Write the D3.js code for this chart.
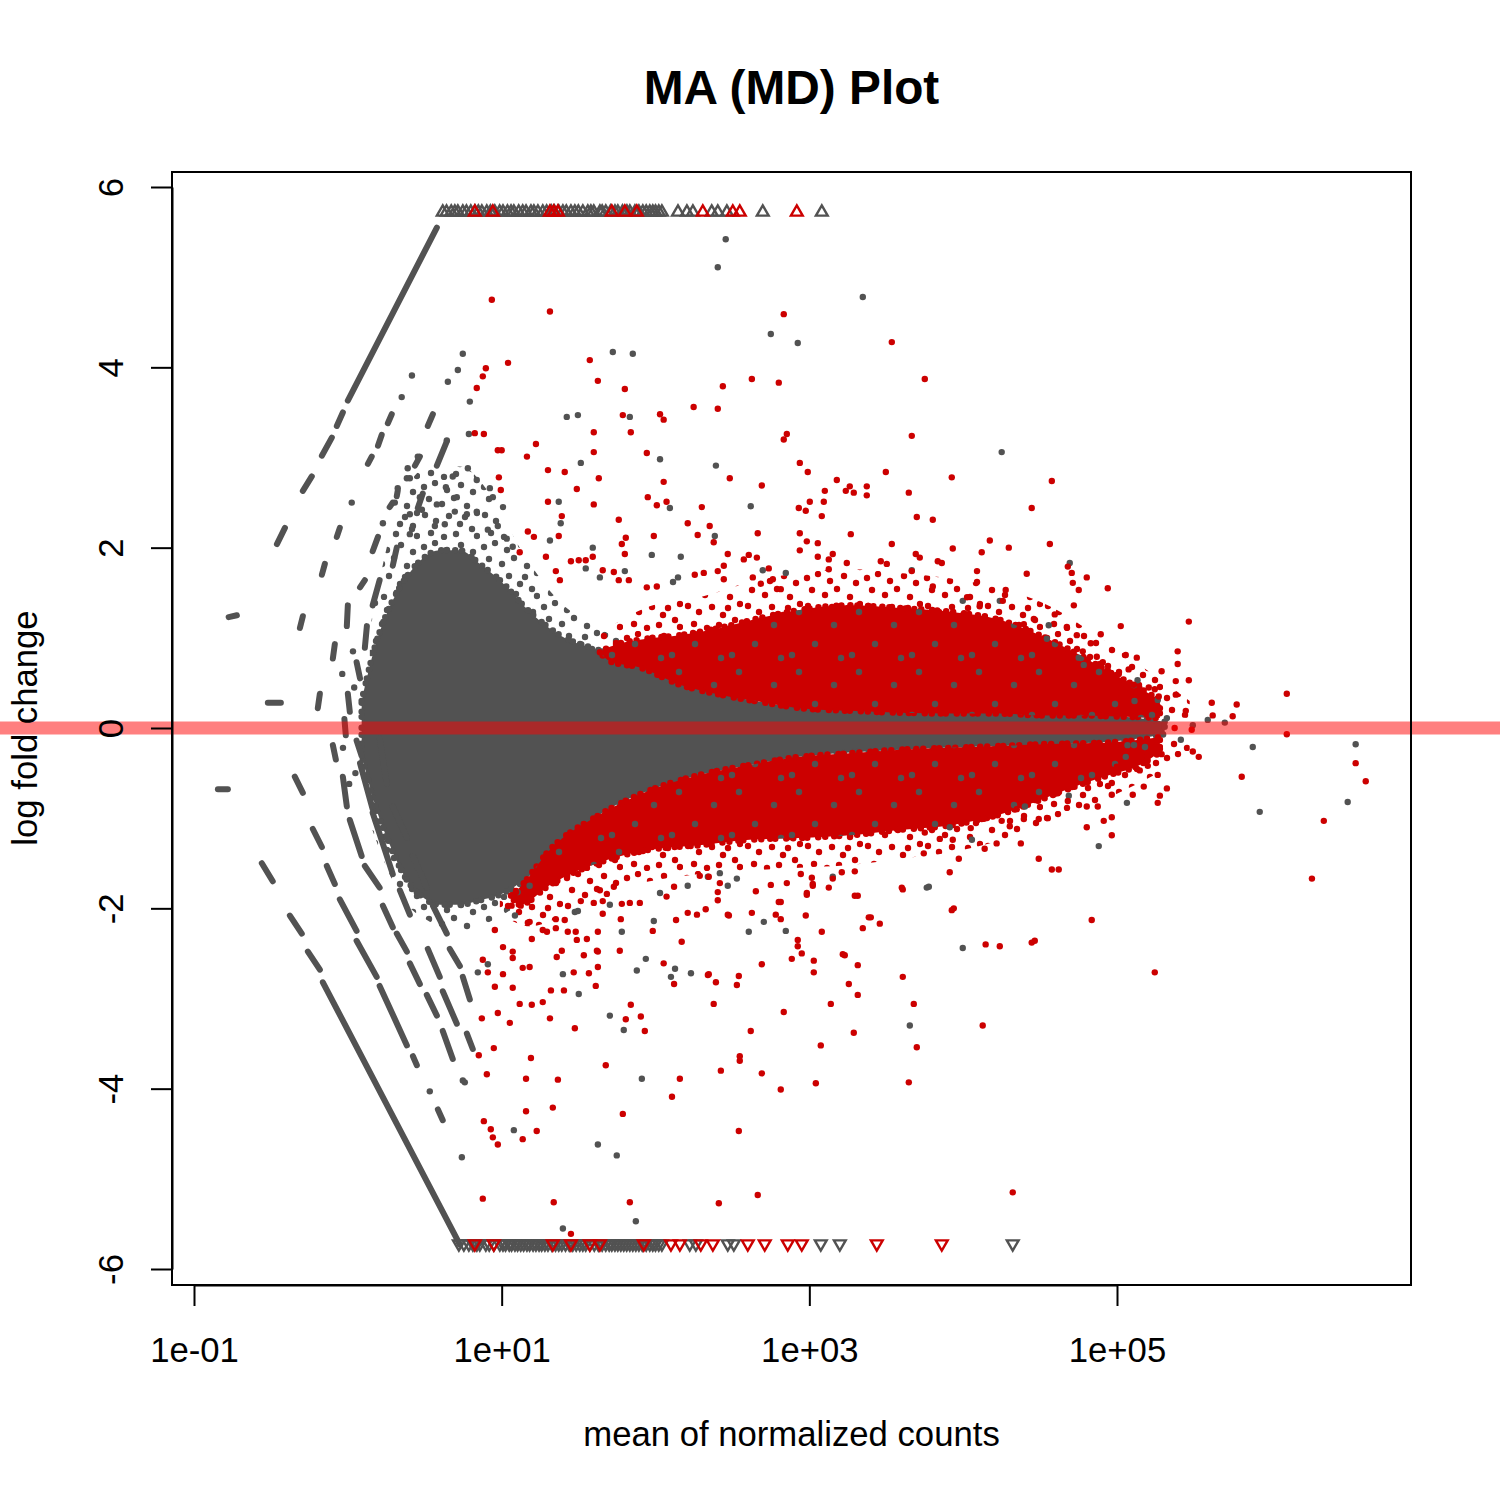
<!DOCTYPE html>
<html>
<head>
<meta charset="utf-8">
<script src="https://cdn.jsdelivr.net/npm/d3@7"></script>
<style>
    body { margin: 0; background: #fff; }
    svg { display: block; }
</style>
</head>
<body>
<div id="chart"></div>
<script>
// tick marks on both axes
const xTicks = [0.1, 10, 1000, 100000];
const xTickLabels = ["1e-01", "1e+01", "1e+03", "1e+05"];
const yTicks = [-6, -4, -2, 0, 2, 4, 6];
// genes past the y limits are drawn as triangles at this fold change
const capLfc = 5.72;

// dense body of non-significant genes: [baseMean, upper lfc, lower lfc]
const grayCloud = [
    [1.23, 0.30, -0.30], [1.50, 0.90, -0.85], [1.88, 1.35, -1.30], [2.35, 1.65, -1.65],
    [2.94, 1.85, -1.85], [3.96, 1.97, -1.96], [5.35, 1.97, -1.96], [7.21, 1.82, -1.91],
    [9.73, 1.64, -1.85], [15.2, 1.29, -1.64], [23.9, 1.03, -1.33], [43.5, 0.86, -0.96],
    [91.8, 0.68, -0.69], [194, 0.44, -0.52], [410, 0.31, -0.41], [867, 0.23, -0.32],
    [3870, 0.19, -0.24], [17300, 0.17, -0.20], [57300, 0.16, -0.17], [121000, 0.12, -0.13],
    [204000, 0.07, -0.07]
];
// looser fringe of non-significant genes: [baseMean, upper lfc, lower lfc]
const grayFringe = [
    [1.39, 1.10, -1.05], [2.18, 2.50, -1.85], [3.41, 2.90, -2.15], [5.35, 2.90, -2.25],
    [8.38, 2.60, -2.15], [13.1, 2.00, -1.95], [23.9, 1.40, -1.60], [43.5, 1.10, -1.25],
    [91.8, 0.85, -0.85], [194, 0.60, -0.65]
];
// dense significant genes above zero: [baseMean, outer lfc, inner lfc]
const redUpCloud = [
    [43.5, 0.84, 0.84], [50.5, 0.90, 0.74], [79.1, 0.98, 0.67], [144, 1.03, 0.48], [262, 1.11, 0.37],
    [476, 1.22, 0.29], [867, 1.31, 0.22], [1830, 1.36, 0.19], [3870, 1.33, 0.17],
    [8180, 1.29, 0.16], [17300, 1.20, 0.16], [31500, 1.03, 0.14], [57300, 0.81, 0.14],
    [89700, 0.62, 0.13], [140600, 0.44, 0.12], [190000, 0.31, 0.11]
];
const redUpFringe = [
    [43.5, 1.05, 0.81], [91.8, 1.35, 0.70], [194, 1.45, 0.53], [410, 1.62, 0.42],
    [867, 1.72, 0.31], [1830, 1.76, 0.26], [3870, 1.72, 0.22], [8180, 1.66, 0.20],
    [17300, 1.55, 0.20], [36600, 1.35, 0.18], [77300, 1.00, 0.16], [163000, 0.62, 0.13],
    [297000, 0.30, 0.11]
];
// dense significant genes below zero: [baseMean, inner lfc, outer lfc]
const redDownCloud = [
    [11.5, -1.86, -1.86], [13.1, -1.77, -1.96], [20.6, -1.35, -1.74], [43.5, -0.96, -1.49], [91.8, -0.69, -1.35],
    [194, -0.52, -1.30], [410, -0.41, -1.24], [867, -0.32, -1.22], [1830, -0.28, -1.19],
    [3870, -0.24, -1.13], [8180, -0.22, -1.08], [17300, -0.20, -0.96], [31500, -0.18, -0.80],
    [57300, -0.17, -0.63], [89700, -0.16, -0.52], [140600, -0.13, -0.41], [190000, -0.10, -0.27]
];
const redDownFringe = [
    [9.73, -1.85, -2.05], [15.2, -1.64, -2.20], [23.9, -1.33, -2.10], [43.5, -0.96, -1.85],
    [91.8, -0.69, -1.70], [194, -0.52, -1.62], [410, -0.41, -1.58], [867, -0.32, -1.55],
    [1830, -0.28, -1.52], [3870, -0.24, -1.45], [8180, -0.22, -1.38], [17300, -0.20, -1.25],
    [36600, -0.18, -1.08], [77300, -0.16, -0.82], [163000, -0.13, -0.55], [297000, -0.10, -0.30]
];

// low-count streaks, each run of genes as [[baseMean, lfc], ...]
const bandsUp = [
    [[3.79, 5.55], [1.00, 3.63]], [[0.928, 3.50], [0.848, 3.35]], [[0.787, 3.22], [0.678, 3.02]],
    [[0.583, 2.79], [0.510, 2.63]], [[0.390, 2.22], [0.346, 2.04]], [[0.190, 1.25], [0.168, 1.23]],
    [[1.93, 3.48], [1.82, 3.38]], [[1.66, 3.25], [1.57, 3.13]], [[1.43, 3.01], [1.35, 2.93]],
    [[0.887, 2.22], [0.848, 2.12]], [[0.709, 1.82], [0.678, 1.70]], [[0.510, 1.24], [0.488, 1.11]],
    [[0.367, 0.28], [0.302, 0.28]],
    [[3.57, 3.48], [3.31, 3.35]], [[2.94, 3.01], [2.73, 2.91]], [[2.11, 2.63], [2.08, 2.57]],
    [[1.96, 2.50], [1.87, 2.45]], [[1.57, 2.12], [1.45, 1.96]], [[1.29, 1.64], [1.20, 1.56]],
    [[1.00, 1.36], [0.985, 1.13]], [[0.823, 0.93], [0.799, 0.77]], [[0.658, 0.38], [0.638, 0.22]],
    [[4.40, 3.18], [3.79, 2.91]], [[3.07, 2.60], [2.85, 2.44]], [[2.08, 2.00], [1.96, 1.80]],
    [[1.61, 1.64], [1.45, 1.36]], [[1.33, 1.13], [1.29, 0.89]], [[1.14, 0.73], [1.20, 0.55]],
    [[1.00, 0.38], [1.03, 0.18]], [[0.95, 0.10], [0.97, -0.08]]
];
const bandsDown = [
    [[5.35, -5.73], [0.688, -2.82]], [[0.658, -2.68], [0.550, -2.48]], [[0.502, -2.28], [0.420, -2.08]],
    [[0.325, -1.70], [0.276, -1.50]], [[0.166, -0.68], [0.143, -0.68]],
    [[0.452, -0.54], [0.510, -0.72]], [[0.592, -1.12], [0.678, -1.32]], [[0.730, -1.53], [0.823, -1.73]],
    [[0.887, -1.90], [1.14, -2.25]], [[1.14, -2.36], [1.54, -2.76]], [[1.61, -2.86], [2.42, -3.52]],
    [[2.65, -3.64], [2.81, -3.74]], [[3.85, -4.23], [4.14, -4.35]],
    [[0.928, -0.54], [0.985, -0.87]], [[1.03, -1.02], [1.23, -1.42]], [[1.29, -1.53], [1.61, -1.77]],
    [[1.69, -1.97], [1.96, -2.21]], [[2.08, -2.28], [2.42, -2.48]], [[2.53, -2.61], [2.94, -2.84]],
    [[3.26, -2.96], [3.79, -3.19]], [[4.14, -3.36], [4.81, -3.67]],
    [[1.14, -0.14], [1.23, -0.31]], [[1.20, -0.39], [1.45, -0.90]], [[1.45, -0.94], [1.96, -1.62]],
    [[2.18, -1.80], [2.53, -2.07]], [[3.31, -2.45], [3.96, -2.76]], [[4.14, -2.92], [5.11, -3.28]],
    [[5.94, -3.39], [6.49, -3.56]],
    [[1.61, -0.11], [1.79, -0.62]], [[1.96, -0.87], [2.42, -1.22]], [[2.65, -1.42], [3.26, -1.77]],
    [[3.57, -1.97], [4.40, -2.28]], [[4.60, -2.45], [5.35, -2.64]], [[5.59, -2.76], [6.21, -3.01]],
    [[0.799, -0.19], [0.836, -0.35]]
];

// scattered non-significant genes: [baseMean, lfc]
const grayPoints = [
    [286, 5.42], [254, 5.11], [2226, 4.78], [562, 4.37], [841, 4.27], [52.8, 4.17], [71.2, 4.15],
    [26.5, 3.45], [31.3, 3.47], [68.1, 3.45], [107, 2.98], [32.7, 2.94], [247, 2.91], [17800, 3.06],
    [23.5, 2.51], [124, 2.44], [416, 2.46], [24.2, 2.27], [20.6, 2.08], [243, 2.13], [39.1, 2.00],
    [94.6, 1.92], [146, 1.90], [35.2, 1.77], [63.2, 1.74], [43.5, 1.67], [130, 1.62], [140, 1.67],
    [498, 1.75], [703, 1.72], [4634, 1.75], [9940, 1.41], [17300, 1.41], [36000, 1.14], [35000, 0.99],
    [56400, 0.78], [60800, 0.70], [136000, 0.53], [130000, 0.30], [184000, 0.31], [211000, 0.11],
    [49300, 1.83], [389000, 0.09], [502000, 0.06], [311000, 0.03], [260000, -0.13], [763000, -0.21],
    [3.56e6, -0.18], [847000, -0.93], [3.16e6, -0.82], [152000, -0.21], [117000, -0.19], [114000, -0.32],
    [116000, -0.83], [76100, -1.31], [48600, -0.75], [25200, -0.87], [11400, -1.24], [8180, -1.10],
    [5800, -1.77], [9940, -2.44], [4500, -3.30], [5980, -1.76], [506, -2.15], [404, -2.26], [703, -2.25],
    [97.5, -2.14], [60.4, -2.26], [29.9, -2.04], [50.5, -1.96], [75.6, -2.69], [86.5, -2.56], [134, -2.67],
    [126, -2.76], [170, -2.72], [25.0, -2.73], [31.7, -2.95], [50.5, -3.19], [62.2, -3.35], [81.5, -3.89],
    [42.2, -4.62], [56.0, -4.74], [74.5, -5.47], [25.0, -5.55], [5.51, -4.76], [12.0, -4.46], [5.76, -3.93],
    [162, -1.75], [219, -1.65], [262, -1.61], [295, -1.75], [338, -1.67], [1420, -1.65], [107, -1.83],
    [12.7, -1.82], [15.2, -1.75], [12.2, -2.08], [31.3, -2.03], [7.0, -2.71], [8.13, -2.62],
    [5.59, 4.15], [5.19, 3.97], [4.47, 3.84], [6.21, 3.62], [6.12, 3.26], [4.40, 3.19], [2.85, 3.01],
    [4.81, 2.79], [6.89, 2.75], [6.03, 2.88], [4.34, 2.67], [3.79, 2.48], [2.45, 2.88], [2.53, 2.77],
    [2.11, 2.66], [2.02, 2.50], [2.94, 2.56], [3.03, 2.42], [5.11, 2.56], [4.96, 2.40], [8.38, 2.66],
    [8.76, 2.56], [10.2, 2.45], [5.94, 2.37], [6.89, 2.40], [3.68, 2.24], [4.27, 2.26], [2.53, 2.37],
    [2.65, 2.24], [8.13, 2.20], [9.44, 2.24], [10.8, 2.10], [11.8, 2.01],
    [2.61, 3.91], [2.24, 3.67], [1.06, 2.50], [2.42, 2.77], [1.69, 2.27], [2.53, 2.15], [3.41, -4.03],
    [5.59, -3.91], [1.08, 0.85], [0.92, 0.60], [0.93, -0.22], [1.02, -0.62], [1.10, 0.45], [1.12, -0.50]
];

// scattered significant genes: [baseMean, lfc]
const redPoints = [
    [8.63, 4.75], [20.6, 4.62], [682, 4.59], [3436, 4.28], [11.0, 4.05], [37.4, 4.08], [42.2, 3.85],
    [63.2, 3.76], [5630, 3.87], [423, 3.87], [633, 3.83], [274, 3.79], [177, 3.56], [254, 3.54],
    [61.3, 3.47], [107, 3.48], [113, 3.42], [39.7, 3.28], [69.1, 3.28], [714, 3.26], [682, 3.20],
    [4634, 3.24], [16.7, 3.15], [10.0, 3.08], [14.6, 3.01], [39.7, 3.06], [87.8, 3.05], [867, 2.94],
    [977, 2.84], [1509, 2.75], [3141, 2.84], [8433, 2.78], [37700, 2.74], [20.0, 2.86], [25.7, 2.84],
    [42.8, 2.77], [30.8, 2.65], [113, 2.73], [304, 2.77], [491, 2.69], [1832, 2.68], [1726, 2.63],
    [1945, 2.61], [2363, 2.68], [2363, 2.58], [1261, 2.63], [4432, 2.61], [20.0, 2.51], [39.7, 2.48],
    [89.1, 2.56], [102, 2.47], [118, 2.51], [200, 2.45], [854, 2.44], [948, 2.41], [1007, 2.51],
    [1242, 2.51], [1205, 2.35], [27900, 2.44], [24.6, 2.35], [4995, 2.34], [6347, 2.31], [57.7, 2.31],
    [162, 2.27], [225, 2.24], [16.2, 2.12], [14.8, 2.18], [23.5, 2.13], [64.1, 2.11], [60.4, 2.04],
    [97.5, 2.13], [188, 2.14], [239, 2.06], [462, 2.16], [13.1, 1.95], [19.4, 1.90], [39.1, 1.90],
    [63.2, 1.93], [295, 1.93], [404, 1.92], [456, 1.89], [28.2, 1.85], [31.7, 1.86], [35.2, 1.86],
    [22.5, 1.74], [45.4, 1.75], [53.6, 1.73], [23.9, 1.64], [57.7, 1.64], [67.1, 1.64], [87.8, 1.56],
    [102, 1.57], [180, 1.70], [206, 1.72], [254, 1.74], [278, 1.80], [278, 1.65], [375, 1.87],
    [545, 1.77], [429, 1.67], [484, 1.60], [579, 1.65], [652, 1.54], [867, 2.16], [963, 2.07],
    [1135, 2.05], [867, 1.97], [1135, 1.90], [1338, 1.87], [1420, 1.93], [1338, 1.76], [1860, 2.15],
    [1752, 1.83], [3436, 2.04], [4920, 1.93], [2914, 1.85], [3188, 1.82], [4634, 1.74], [7262, 1.83],
    [14900, 2.08], [8560, 1.99], [13200, 1.95], [19800, 2.00], [36600, 2.04], [5224, 1.89], [6839, 1.85],
    [47900, 1.79], [50800, 1.72], [51600, 1.61], [56400, 1.53], [63600, 1.67], [87100, 1.55],
    [12300, 1.74], [12300, 1.62], [25900, 1.71], [52400, 1.36], [6347, 1.57], [18900, 1.53],
    [10600, 1.45], [12800, 1.35], [18100, 1.41], [39400, 1.26], [28800, 1.21], [24800, 1.15],
    [47200, 1.12], [54800, 1.03], [78400, 1.04], [105800, 1.13], [67500, 0.94], [59900, 0.85],
    [114000, 0.81], [134500, 0.78], [248000, 0.85], [248000, 0.71], [293000, 1.18], [73900, 0.79],
    [80800, 0.73], [87100, 0.64], [102700, 0.60], [119000, 0.65], [195000, 0.63], [241000, 0.52],
    [293000, 0.53], [128500, 0.48], [114000, 0.44], [98200, 0.38], [160900, 0.45], [176000, 0.43],
    [186900, 0.35], [241000, 0.37], [184000, 0.24], [184000, 0.19], [280000, 0.19], [413000, 0.28],
    [419000, 0.14], [600000, 0.26], [565000, 0.13], [1.27e6, 0.38], [237000, 0.00], [306000, -0.02],
    [1.27e6, -0.07], [3.56e6, -0.39], [4.14e6, -0.59], [311000, -0.26], [340000, -0.32], [647000, -0.54],
    [2.21e6, -1.03], [1.85e6, -1.67], [195000, -0.29], [184000, -0.52], [211000, -0.67], [190000, -0.75],
    [184000, -0.83], [158500, -0.31], [158500, -0.42], [140600, -0.47], [149300, -0.65], [126600, -0.74],
    [92500, -0.74], [92500, -0.99], [92500, -1.19], [82000, -1.03], [92500, -0.61], [99700, -0.43],
    [75000, -0.87], [63600, -0.87], [63600, -1.10], [68500, -2.13], [176000, -2.71], [8433, -2.02],
    [14000, -2.40], [17300, -2.42], [27900, -2.38], [31000, -1.45], [37700, -1.57], [41800, -1.57],
    [8180, -1.60], [9370, -1.45], [5546, -1.39], [13800, -1.34], [16500, -1.28], [23700, -1.28],
    [20100, -1.09], [17800, -1.03], [13200, -1.01], [11200, -1.11], [8560, -1.24], [7047, -1.23],
    [5630, -1.16], [31000, -1.01], [35500, -1.00], [24800, -1.01], [22300, -0.90], [39400, -0.73],
    [47900, -0.81], [21000, -5.15],
    [4050, -1.79], [2065, -1.86], [8690, -2.00], [2509, -2.10], [2871, -2.17], [2226, -2.22],
    [1205, -2.26], [948, -2.08], [652, -1.93], [605, -2.07], [652, -2.12], [423, -2.05], [300, -2.08],
    [212, -2.01], [186, -2.07], [162, -2.05], [136, -2.13], [96.0, -2.25], [148, -2.37], [841, -2.35],
    [841, -2.42], [893, -2.50], [1700, -2.52], [2065, -2.63], [1069, -2.58], [1069, -2.71], [769, -2.56],
    [491, -2.62], [29200, -2.36], [4050, -2.76], [1806, -2.84], [2065, -2.96], [1379, -3.06], [682, -3.15],
    [348, -2.75], [247, -2.82], [219, -2.74], [338, -2.85], [239, -3.06], [416, -3.36], [4775, -3.06],
    [13400, -3.30], [1945, -3.38], [1187, -3.52], [4995, -3.54], [353, -3.64], [353, -3.69], [491, -3.83],
    [266, -3.80], [652, -4.01], [1102, -3.94], [4432, -3.93], [144, -3.89], [128, -4.09], [348, -4.47],
    [61.3, -4.28], [47.5, -3.74], [462, -5.18], [258, -5.27], [68.1, -5.26], [21.8, -5.26], [7.54, -5.22],
    [28.2, -5.61], [7.66, -4.36], [8.50, -4.45], [8.76, -4.54], [9.44, -4.62], [13.7, -4.56], [16.9, -4.47],
    [14.4, -4.25], [21.5, -4.21], [7.10, -3.63], [8.89, -3.55], [15.5, -3.66], [8.01, -3.84], [14.4, -3.89],
    [23.2, -3.90], [13.1, -3.06], [15.7, -3.07], [18.5, -3.04], [20.6, -3.22], [29.9, -3.33], [11.3, -3.27],
    [9.44, -3.16], [7.43, -3.22], [69.1, -3.07], [64.1, -3.23], [80.3, -3.20], [85.2, -3.36], [20.9, -2.91],
    [25.4, -2.91], [40.9, -2.86], [11.8, -2.88], [9.03, -2.87], [29.4, -2.71], [36.9, -2.72], [42.2, -2.65],
    [42.2, -2.48], [34.2, -2.52], [22.8, -2.54], [113, -2.61], [132, -2.84], [222, -2.73], [32.7, -1.92],
    [39.7, -1.94], [45.4, -1.92], [60.4, -1.95], [68.1, -1.94], [79.1, -1.94], [42.2, -2.26], [30.3, -2.26],
    [26.9, -2.26], [22.5, -2.12], [22.5, -2.22], [59.5, -2.12], [45.4, -2.06], [48.3, -1.84], [43.5, -1.80],
    [53.6, -1.76], [30.8, -2.35], [18.5, -2.24], [14.8, -2.16], [11.6, -1.97], [13.3, -1.97], [12.4, -1.82],
    [118, -1.87], [132, -1.76], [194, -1.64], [222, -1.65], [254, -1.91], [254, -1.82], [262, -1.72],
    [295, -2.07], [449, -1.81], [562, -1.74], [633, -1.93], [714, -1.72], [880, -1.62], [1038, -1.66],
    [1053, -1.75], [1053, -1.73], [963, -1.83], [963, -1.85], [1338, -1.77], [1420, -1.67], [1626, -1.60],
    [1975, -1.59], [1975, -1.86], [2435, -2.10], [3990, -1.77], [1650, -2.51], [10.2, -2.43], [11.8, -2.48],
    [11.8, -2.55], [13.7, -2.66], [15.2, -2.65], [13.5, -1.90], [15.2, -2.15], [15.7, -2.34], [19.7, -2.26],
    [9.03, -2.24], [7.54, -2.57], [8.13, -2.71], [10.2, -2.73], [25.7, -2.13], [35.8, -2.34], [24.6, -2.47],
    [41.6, -2.47], [58.6, -2.47],
    [7.89, 3.99], [7.54, 3.90], [6.89, 3.77], [6.69, 3.27], [7.66, 3.26], [9.44, 3.08], [9.59, 2.78],
    [9.87, 2.64]
];

// genes beyond the limits, baseMean only
const grayUp = [
    4.14, 4.38, 4.70, 4.96, 5.19, 5.59, 5.90, 6.30, 6.71, 7.05, 7.43, 8.00, 8.45, 9.02, 9.70, 10.2,
    10.9, 11.5, 12.0, 12.9, 13.7, 14.4, 15.5, 16.2, 17.2, 18.5, 19.6, 21.0, 22.0, 23.5, 25.0, 26.3,
    28.2, 29.9, 31.5, 33.7, 36.3, 38.0, 39.7, 43.5, 45.0, 47.5, 51.0, 54.5, 56.9, 61.0, 65.2, 68.1,
    73.5, 78.0, 82.7, 87.0, 91.8, 96.0, 100, 105, 110, 140, 160, 175, 232, 254, 291, 498, 1205
];
const redUp = [6.69, 8.76, 20.6, 21.8, 23.2, 52.0, 63.2, 75.6, 203, 318, 353, 829];
const grayDown = [
    5.27, 5.68, 6.12, 6.50, 6.90, 7.21, 7.89, 8.30, 8.90, 9.73, 10.2, 10.6, 11.2, 11.6, 12.2, 12.7,
    13.3, 13.9, 14.6, 15.2, 16.0, 16.7, 17.5, 18.2, 19.1, 20.0, 21.2, 22.4, 23.5, 24.6, 26.0, 27.5,
    29.0, 30.5, 32.2, 33.7, 35.2, 37.5, 40.0, 42.5, 45.0, 47.5, 50.0, 52.0, 54.5, 56.9, 59.5, 62.2,
    65.0, 68.1, 71.2, 74.5, 78.0, 82.0, 87.0, 91.8, 96.0, 100, 105, 110, 167, 183, 295, 323, 1187,
    1578, 21000
];
const redDown = [6.69, 8.89, 21.5, 28.2, 37.4, 43.5, 83.9, 126, 144, 197, 236, 398, 513, 724, 893, 2745, 7262];

const maPlot = (function(d3) {
    "use strict";
    const module = {};

    module.size = 1500;
    module.gray = "#525252";
    module.red = "#cc0000";
    module.font = "'Liberation Sans', Arial, Helvetica, sans-serif";
    module.fontSize = 34.7;
    // dot layout of one 60px tile of the fringe texture
    module.tile = [
        [4, 7], [15, 3], [27, 10], [41, 5], [53, 12], [9, 19], [22, 24], [34, 18], [47, 26], [57, 33],
        [5, 35], [16, 41], [29, 36], [40, 44], [52, 49], [11, 53], [24, 57], [36, 54], [45, 37], [57, 56]
    ];
    // sparse grey flecks sprinkled through the red clouds
    module.fleck = [[12, 9], [47, 22], [28, 41], [5, 52], [54, 55]];

    module.draw = function() {
        const box = { left: 172, right: 1411, top: 172, bottom: 1285 },
            svg = d3
                .select("#chart")
                .append("svg")
                .attr("width", module.size)
                .attr("height", module.size)
                .style("font-family", module.font);

        svg.append("rect")
            .attr("width", module.size)
            .attr("height", module.size)
            .attr("fill", "#fff");

        const defs = svg.append("defs");
        function texture(id, color, shift, layout) {
            const p = defs.append("pattern")
                .attr("id", id)
                .attr("patternUnits", "userSpaceOnUse")
                .attr("width", 60)
                .attr("height", 60)
                .attr("patternTransform", "translate(" + shift + ")");
            layout.forEach(function(t) {
                p.append("circle").attr("cx", t[0]).attr("cy", t[1]).attr("r", 3.2).attr("fill", color);
            });
        }
        texture("grayDots", module.gray, "0,0", module.tile);
        texture("redDots", module.red, "23,31", module.tile);
        texture("grayFleck", module.gray, "7,3", module.fleck);

        const x = d3.scaleLog().domain(d3.extent(xTicks)).range([194, 1117]),
            y = d3.scaleLinear().domain(d3.extent(yTicks)).range([1269, 187]);

        const marks = svg.append("g");

        function band(d) {
            return d3.area()
                .curve(d3.curveMonotoneX)
                .x(p => x(p[0]))
                .y0(p => y(p[2]))
                .y1(p => y(p[1]))(d);
        }

        function fringe(data, pattern) {
            marks.append("path").attr("d", band(data)).attr("fill", "url(#" + pattern + ")");
        }

        function cloud(data, color) {
            marks.append("path").attr("d", band(data)).attr("fill", color);
            // dotted rim so the edge looks like loose points
            marks.append("path")
                .attr("d", band(data))
                .attr("fill", "none")
                .attr("stroke", color)
                .attr("stroke-width", 6.5)
                .attr("stroke-linecap", "round")
                .attr("stroke-dasharray", "0 7 0 11 0 5 0 9");
        }

        fringe(grayFringe, "grayDots");
        fringe(redUpFringe, "redDots");
        fringe(redDownFringe, "redDots");
        cloud(grayCloud, module.gray);
        cloud(redUpCloud, module.red);
        cloud(redDownCloud, module.red);
        fringe(redUpCloud, "grayFleck");
        fringe(redDownCloud, "grayFleck");

        const line = d3.line().x(d => x(d[0])).y(d => y(d[1]));
        marks.selectAll("path.band")
            .data(bandsUp.concat(bandsDown))
            .join("path")
            .attr("class", "band")
            .attr("d", line)
            .attr("fill", "none")
            .attr("stroke", module.gray)
            .attr("stroke-width", 6)
            .attr("stroke-linecap", "round");

        function dots(data, color) {
            marks.append("g")
                .selectAll("circle")
                .data(data)
                .join("circle")
                .attr("cx", d => x(d[0]))
                .attr("cy", d => y(d[1]))
                .attr("r", 3.2)
                .attr("fill", color);
        }

        dots(grayPoints, module.gray);
        dots(redPoints, module.red);

        const tri = d3.symbol().type(d3.symbolTriangle).size(60);
        function triangles(data, color, lfc, flip) {
            marks.append("g")
                .selectAll("path")
                .data(data)
                .join("path")
                .attr("d", tri)
                .attr("transform", d => "translate(" + x(d) + "," + y(lfc) + ")" + (flip ? " rotate(180)" : ""))
                .attr("fill", "none")
                .attr("stroke", color)
                .attr("stroke-width", 2.4);
        }

        triangles(grayUp, module.gray, capLfc, false);
        triangles(redUp, module.red, capLfc, false);
        triangles(grayDown, module.gray, -capLfc, true);
        triangles(redDown, module.red, -capLfc, true);

        // zero line, half transparent, runs across the whole figure
        svg.append("line")
            .attr("x1", 0)
            .attr("x2", module.size)
            .attr("y1", y(0))
            .attr("y2", y(0))
            .attr("stroke", "rgba(255,0,0,0.5)")
            .attr("stroke-width", 13);

        svg.append("rect")
            .attr("x", box.left)
            .attr("y", box.top)
            .attr("width", box.right - box.left)
            .attr("height", box.bottom - box.top)
            .attr("fill", "none")
            .attr("stroke", "#000")
            .attr("stroke-width", 2);

        const xAxis = d3
            .axisBottom(x)
            .tickValues(xTicks)
            .tickFormat((d, i) => xTickLabels[i])
            .tickSize(21)
            .tickSizeOuter(0)
            .tickPadding(31);
        svg.append("g")
            .attr("transform", "translate(0," + box.bottom + ")")
            .call(xAxis)
            .attr("font-size", module.fontSize)
            .attr("font-family", module.font)
            .call(g => g.selectAll("line, path").attr("stroke-width", 2));

        const yAxis = d3
            .axisLeft(y)
            .tickValues(yTicks)
            .tickFormat(d => String(d))
            .tickSize(21)
            .tickSizeOuter(0);
        svg.append("g")
            .attr("transform", "translate(" + box.left + ",0)")
            .call(yAxis)
            .attr("font-size", module.fontSize)
            .attr("font-family", module.font)
            .call(g => g.selectAll("line, path").attr("stroke-width", 2))
            .call(g => g.selectAll("text")
                .attr("transform", "rotate(-90)")
                .attr("x", 0)
                .attr("y", -49)
                .attr("dy", null)
                .attr("text-anchor", "middle"));

        const midX = (box.left + box.right) / 2;
        svg.append("text")
            .attr("x", midX)
            .attr("y", 104)
            .attr("text-anchor", "middle")
            .attr("font-size", 47.8)
            .attr("font-weight", "bold")
            .text("MA (MD) Plot");

        svg.append("text")
            .attr("x", midX)
            .attr("y", 1446)
            .attr("text-anchor", "middle")
            .attr("font-size", module.fontSize)
            .text("mean of normalized counts");

        svg.append("text")
            .attr("transform", "translate(37," + y(0) + ") rotate(-90)")
            .attr("text-anchor", "middle")
            .attr("font-size", module.fontSize)
            .text("log fold change");

        return svg;
    };

    return module;
})(d3);

maPlot.draw();
</script>
</body>
</html>
